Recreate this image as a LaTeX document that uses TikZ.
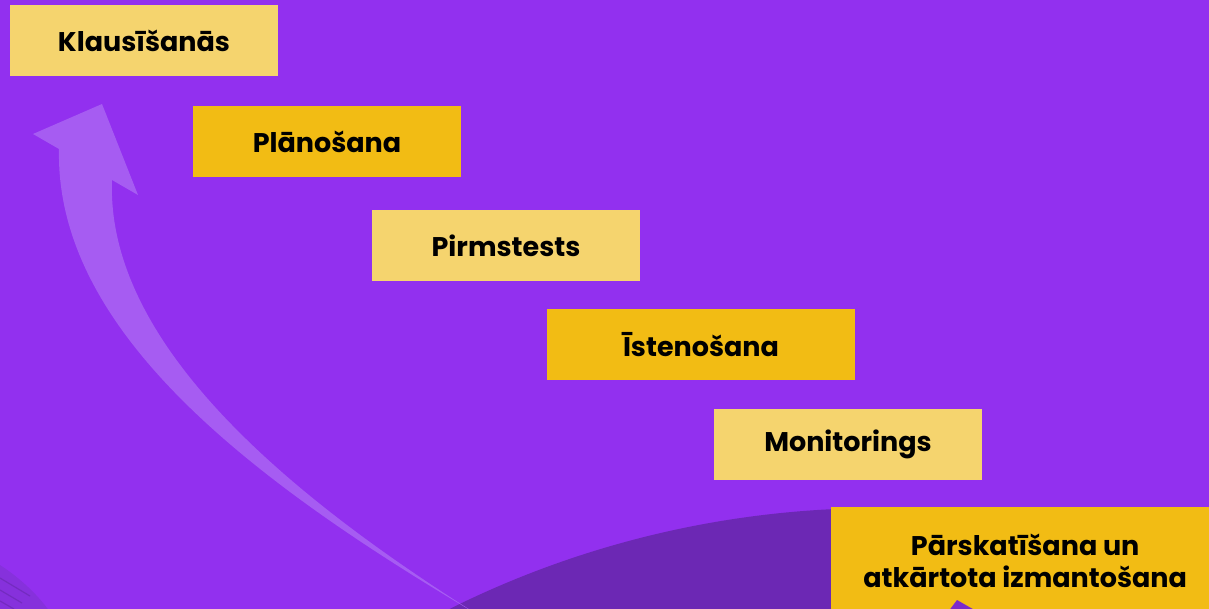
\documentclass[tikz,border=0pt]{standalone}
\usepackage{fontspec}
\setmainfont{Poppins}[BoldFont={Poppins Bold}]
\definecolor{bgpurple}{HTML}{9230EF}
\definecolor{darkpurple}{HTML}{6C28B4}
\definecolor{arrowpurple}{HTML}{A65CF2}
\definecolor{lightyellow}{HTML}{F5D46E}
\definecolor{darkyellow}{HTML}{F2BC14}
\definecolor{cornerpurple}{HTML}{8631DC}
\begin{document}
\begin{tikzpicture}[x=1pt,y=-1pt,
  stepbox/.style={rectangle, inner sep=0pt, minimum width=268pt, minimum height=71pt,
    font=\fontsize{27}{32}\selectfont\bfseries, text=black, align=center},
  lightbox/.style={stepbox, fill=lightyellow},
  darkbox/.style={stepbox, fill=darkyellow}]
\clip (0,0) rectangle (1209,609);
\fill[bgpurple] (0,0) rectangle (1209,609);
% dark circle at the bottom
\fill[darkpurple] (880,1474) circle (966);
% bottom-left corner stripes
\fill[cornerpurple] (0,565) .. controls (20,578) and (38,595) .. (50,612) -- (0,612) -- cycle;
\draw[darkpurple!70!cornerpurple, line width=1.2pt] (0,578) -- (30,596);
\draw[darkpurple!70!cornerpurple, line width=1.2pt] (0,590) -- (22,603);
\draw[darkpurple!70!cornerpurple, line width=1.2pt] (0,601) -- (14,609);
% curved arrow
\fill[arrowpurple] (33,134) -- (102,104) -- (138,195) -- (112,180)
  .. controls (106,340) and (280,490) .. (475,613)
  .. controls (250,480) and (55,330) .. (59,149)
  -- cycle;
% boxes
\node[lightbox] (b1) at (144,40.5) {Klausīšanās};
\node[darkbox] (b2) at (327,141.5) {Plānošana};
\node[lightbox] (b3) at (506,245.5) {Pirmstests};
\node[darkbox, minimum width=308pt] (b4) at (701,344.5) {Īstenošana};
\node[lightbox] (b5) at (848,444.5) {Monitorings};
\node[darkbox, minimum width=388pt, minimum height=108pt, anchor=north west] (b6) at (831,507)
  {Pārskatīšana un\\atkārtota izmantošana};
\fill[darkpurple!60!bgpurple] (948,612) -- (957,600) -- (978,612) -- cycle;
\end{tikzpicture}
\end{document}
